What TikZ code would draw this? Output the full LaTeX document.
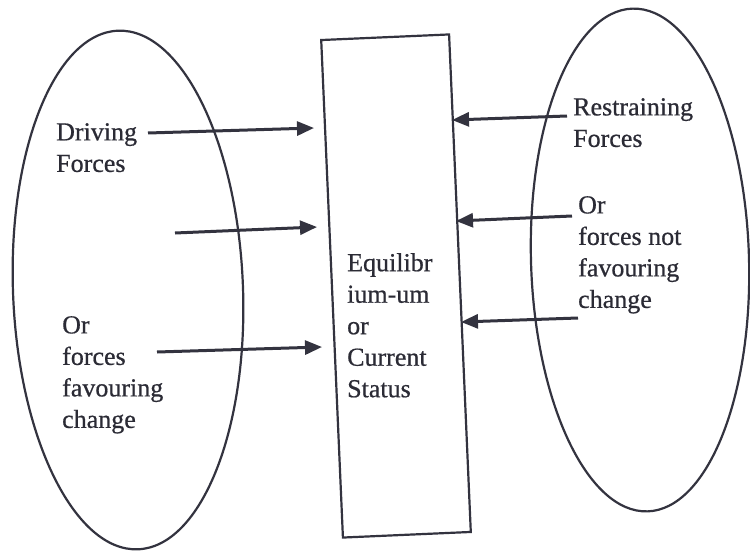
\documentclass[tikz,border=0pt]{standalone}
\usepackage{fontspec}
\setmainfont{Liberation Serif}[FakeBold=0.6]
\usetikzlibrary{shapes.geometric,arrows.meta}
\definecolor{ink}{HTML}{33333F}
\definecolor{txt}{HTML}{2B2B35}
\begin{document}
\begin{tikzpicture}[x=1pt,y=-1pt,
  outline/.style={draw=ink,line width=2.2pt,inner sep=0pt},
  force/.style={draw=ink,line width=3pt,-{Triangle[length=17pt,width=14pt]}},
  txtblock/.style={text=txt,inner sep=0pt,anchor=north west,align=left,
    font=\fontsize{26}{31.5}\selectfont}]
  \useasboundingbox[fill=white] (0,0) rectangle (750,551);

  % the two force fields and the central state
  \node[outline,ellipse,minimum width=230pt,minimum height=519pt,rotate=2.2]
    (drive) at (128,290) {};
  \node[outline,ellipse,minimum width=218pt,minimum height=503pt,rotate=1.7]
    (restrain) at (640,260) {};
  \node[outline,rectangle,minimum width=128pt,minimum height=498pt,rotate=2.5]
    (state) at (396,286) {};

  % texts
  \node[txtblock] (dtitle) at (56,123) {Driving\\Forces};
  \node[txtblock] (dalt) at (62,316) {Or\\forces\\favouring\\change};
  \node[txtblock] (stext) at (347,253) {Equilibr\\ium-um\\or\\Current\\Status};
  \node[txtblock] (rtitle) at (573,98) {Restraining\\Forces};
  \node[txtblock] (ralt) at (578,196) {Or\\forces not\\favouring\\change};

  % arrow ends
  \coordinate (d1s) at (148,133); \coordinate (d1e) at (314,128);
  \coordinate (d2s) at (175,233); \coordinate (d2e) at (317,227);
  \coordinate (d3s) at (157,352); \coordinate (d3e) at (322,347);
  \coordinate (r1s) at (567,116); \coordinate (r1e) at (452,120);
  \coordinate (r2s) at (572,216); \coordinate (r2e) at (456,221);
  \coordinate (r3s) at (578,318); \coordinate (r3e) at (461,322);

  % driving forces push toward the state
  \draw[force] (d1s) -- (d1e);
  \draw[force] (d2s) -- (d2e);
  \draw[force] (d3s) -- (d3e);
  % restraining forces push back
  \draw[force] (r1s) -- (r1e);
  \draw[force] (r2s) -- (r2e);
  \draw[force] (r3s) -- (r3e);
\end{tikzpicture}
\end{document}
